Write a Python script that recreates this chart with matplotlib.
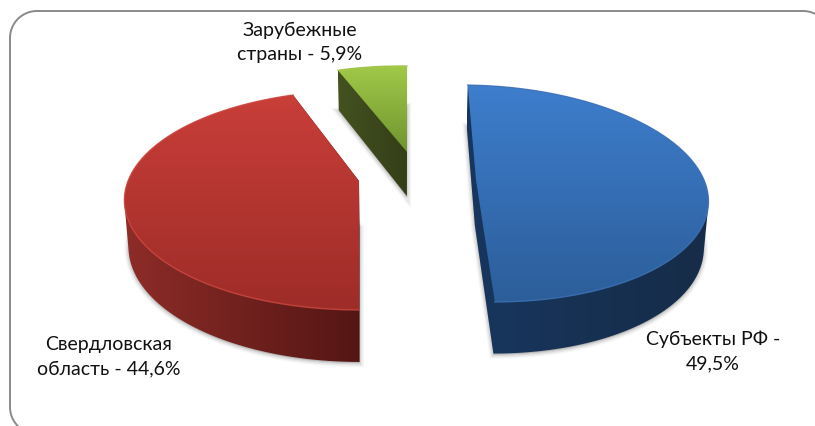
import numpy as np
import matplotlib
matplotlib.use("Agg")
import matplotlib.pyplot as plt
from matplotlib.patches import Polygon

plt.rcParams['font.family'] = ['Lato', 'Noto Sans', 'DejaVu Sans']

# data (pie order, counter-clockwise from the front)
categories = ["Субъекты РФ", "Зарубежные страны", "Свердловская область"]
values = [49.5, 5.9, 44.6]
labels = ["Субъекты РФ -\n49,5%", "Зарубежные\nстраны - 5,9%", "Свердловская\nобласть - 44,6%"]

# styling and layout, one entry per slice
# centre x/y, semi-axes a/b, perspective k, shear s
planes = [(476, 180, 228, 106.8, 0.1244, 16.5),
          (407, 152, 218, 99.0, 0.15, 6.8),
          (359, 181, 231, 106.3, 0.1756, 0.0)]
top_colours = [((62, 126, 205), (44, 94, 154)),
               ((162, 202, 72), (112, 148, 48)),
               ((201, 62, 57), (158, 44, 40))]
wall_colours = [((24, 54, 94), (22, 44, 72)),
                ((68, 82, 32), (52, 62, 24)),
                ((142, 44, 40), (84, 22, 20))]
rim_colours = ["#3f74b8", "#a6c850", "#cf4a42"]
label_xy = [(713, 351.5), (300, 42.5), (109, 356.5)]


def project(theta, radius, plane):
    cx, cy, a, b, k, s = plane
    u = radius * np.cos(np.radians(theta))
    v = radius * np.sin(np.radians(theta))
    den = 1 + k * v
    return cx + (a * u - s * v) / den, cy - b * v / den


def lower(pts):
    x, y = pts
    return 400 + (x - 400) * 0.985, y + 40 + 0.05 * (y - 70)


def hull(points):
    pts = sorted(map(tuple, points))
    def half(seq):
        out = []
        for p in seq:
            while len(out) > 1 and ((out[-1][0] - out[-2][0]) * (p[1] - out[-2][1])
                                    - (out[-1][1] - out[-2][1]) * (p[0] - out[-2][0])) <= 0:
                out.pop()
            out.append(p)
        return out[:-1]
    return np.array(half(pts) + half(pts[::-1]))


def gradient(ax, poly, c0, c1, vertical, zorder):
    x0, y0 = poly.min(axis=0)
    x1, y1 = poly.max(axis=0)
    t = np.linspace(0, 1, 256)
    rgb = np.outer(1 - t, c0) + np.outer(t, c1)
    img = rgb[:, None, :] if vertical else rgb[None, :, :]
    im = ax.imshow(img.astype(np.uint8), extent=(x0, x1, y1, y0), aspect='auto',
                   interpolation='bilinear', zorder=zorder)
    clip = Polygon(poly, closed=True, transform=ax.transData, fc='none', ec='none')
    ax.add_patch(clip)
    im.set_clip_path(clip)


fig = plt.figure(figsize=(8.15, 4.26), dpi=100, facecolor='white')
ax = fig.add_axes([0, 0, 1, 1])
wedges, _ = ax.pie(values, startangle=-90, counterclock=True)
thetas = [(w.theta1, w.theta2) for w in wedges]
for w in wedges:
    w.remove()

for i, ((t1, t2), plane) in enumerate(zip(thetas, planes)):
    th = np.linspace(t1, t2, 240)
    rim = np.array(project(th, 1.0, plane))
    apex = np.array(project(np.array([0.0]), 0.0, plane))
    top = np.vstack([rim.T, apex.T])
    bottom = np.column_stack(lower(top.T))
    sil = hull(np.vstack([top, bottom]))
    for lw, al in ((6, 0.06), (4, 0.10), (2, 0.14)):
        ax.add_patch(Polygon(bottom + [0, 1], closed=True, fc='#666666', ec='#666666',
                             lw=lw, alpha=al, zorder=2))
    gradient(ax, sil, *wall_colours[i], vertical=False, zorder=3)
    gradient(ax, top, *top_colours[i], vertical=True, zorder=4)
    ax.plot(rim[0], rim[1], color=rim_colours[i], lw=1.0, alpha=0.8, zorder=5)

# rounded frame, running off the right and bottom of the picture
left, top_y, right, bot, r = 10, 11, 830, 434, 27
arc = np.linspace(0, np.pi / 2, 30)
fx = np.concatenate([left + r - r * np.cos(arc), right - r + r * np.sin(arc),
                     right - r + r * np.cos(arc), left + r - r * np.sin(arc)])
fy = np.concatenate([top_y + r - r * np.sin(arc), top_y + r - r * np.cos(arc),
                     bot - r + r * np.sin(arc), bot - r + r * np.cos(arc)])
ax.add_patch(Polygon(np.column_stack([fx, fy]), closed=True, fc='none', ec='#8a8a8a',
                     lw=1.4, zorder=6))

for text, (x, y) in zip(labels, label_xy):
    ax.text(x, y, text, ha='center', va='center', fontsize=14, color='#111111',
            linespacing=1.55, zorder=7)

ax.set_aspect('auto')
ax.set_xlim(0, 815)
ax.set_ylim(426, 0)
ax.axis('off')
fig.savefig('out.png', dpi=100, facecolor='white')
